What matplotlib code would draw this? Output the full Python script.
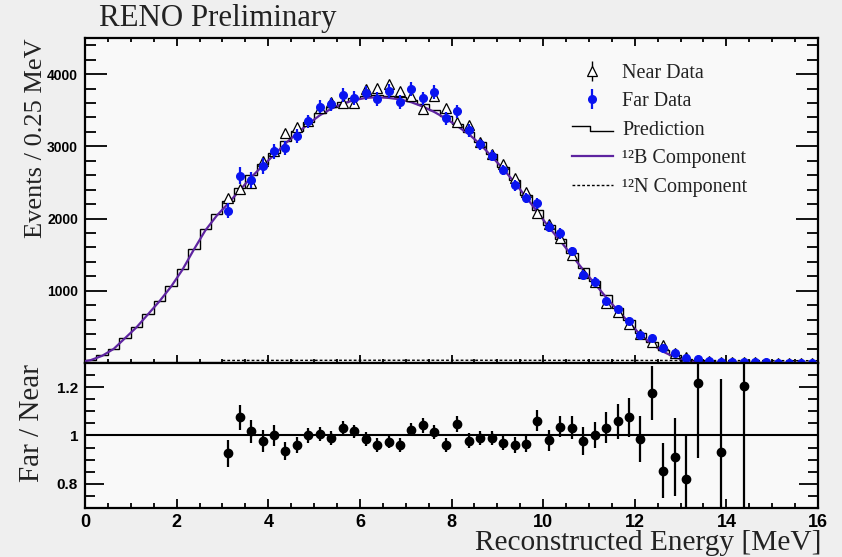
import numpy as np
import matplotlib
matplotlib.use("Agg")
import matplotlib.pyplot as plt
from matplotlib.lines import Line2D
from matplotlib.legend_handler import HandlerBase
from matplotlib.ticker import MultipleLocator, FixedLocator

# ---------------- data ----------------
bin_width = 0.25
bin_edges = np.arange(0.0, 16.0 + bin_width / 2, bin_width)

prediction = [45, 105, 200, 350, 500, 680, 860, 1060, 1300, 1580, 1850, 2060,
              2240, 2420, 2600, 2760, 2910, 3070, 3210, 3340, 3460, 3550, 3620, 3670,
              3700, 3710, 3700, 3680, 3640, 3580, 3505, 3415, 3310, 3200, 3060, 2890,
              2720, 2530, 2330, 2120, 1910, 1720, 1520, 1320, 1130, 940, 760, 590,
              420, 290, 185, 110, 60, 35, 22, 15, 12, 10, 9, 8, 7, 6, 5, 5]

b12_energy = [0.0, 0.125, 0.375, 0.625, 0.875, 1.125, 1.375, 1.625, 1.875, 2.125, 2.375,
              2.625, 2.875, 3.125, 3.375, 3.625, 3.875, 4.125, 4.375, 4.625, 4.875,
              5.125, 5.375, 5.625, 5.875, 6.125, 6.375, 6.625, 6.875, 7.125, 7.375,
              7.625, 7.875, 8.125, 8.375, 8.625, 8.875, 9.125, 9.375, 9.625, 9.875,
              10.125, 10.375, 10.625, 10.875, 11.125, 11.375, 11.625, 11.875, 12.125,
              12.375, 12.625, 12.875, 13.125, 13.375, 13.625, 13.875, 14.5, 15.0, 16.0]
b12_component = [25, 40, 100, 195, 345, 495, 675, 855, 1055, 1290, 1570, 1835, 2040,
                 2210, 2390, 2570, 2730, 2880, 3040, 3180, 3310, 3430, 3520, 3590, 3640,
                 3670, 3680, 3670, 3650, 3610, 3550, 3475, 3385, 3280, 3170, 3030, 2860,
                 2690, 2500, 2300, 2090, 1880, 1690, 1490, 1290, 1100, 910, 730, 560,
                 390, 260, 155, 80, 30, 8, 2, 0, 0, 0, 0]

n12_energy = [3.0, 6.0, 9.0, 12.0, 16.0]
n12_component = [35, 38, 38, 36, 32]

data_energy = [3.125, 3.375, 3.625, 3.875, 4.125, 4.375, 4.625, 4.875, 5.125, 5.375,
               5.625, 5.875, 6.125, 6.375, 6.625, 6.875, 7.125, 7.375, 7.625, 7.875,
               8.125, 8.375, 8.625, 8.875, 9.125, 9.375, 9.625, 9.875, 10.125, 10.375,
               10.625, 10.875, 11.125, 11.375, 11.625, 11.875, 12.125, 12.375, 12.625,
               12.875, 13.125, 13.375, 13.625, 13.875, 14.125, 14.375, 14.625, 14.875,
               15.125, 15.375, 15.625, 15.875]
near_data = [2280, 2415, 2490, 2790, 2930, 3180, 3270, 3345, 3525, 3620, 3600, 3605,
             3800, 3805, 3860, 3760, 3700, 3515, 3700, 3530, 3330, 3290, 3060, 2900,
             2760, 2560, 2365, 2080, 1925, 1730, 1495, 1250, 1125, 825, 705, 545, 400,
             295, 245, 145, 88, 40, 25, 18, 12, 10, 8, 6, 5, 4, 3, 3]
near_err = [38, 39, 40, 42, 43, 45, 46, 46, 47, 48, 48, 48, 49, 49, 50, 49, 49, 47,
            49, 47, 46, 46, 44, 43, 42, 40, 39, 36, 35, 33, 31, 28, 27, 23, 21, 19, 16,
            14, 12, 10, 8, 5, 4, 3, 3, 3, 2, 2, 2, 2, 2, 2]
far_data = [2111, 2596, 2532, 2729, 2930, 2973, 3142, 3345, 3550, 3580, 3712, 3666,
            3743, 3653, 3764, 3613, 3789, 3663, 3752, 3392, 3487, 3221, 3026, 2868,
            2672, 2460, 2280, 2210, 1887, 1795, 1544, 1223, 1128, 852, 746, 586, 394,
            347, 209, 132, 72, 49, 30, 17, 14, 12, 9, 7, 6, 5, 5, 4]
far_err = [105, 120, 110, 110, 105, 95, 95, 95, 95, 95, 95, 95, 95, 95, 95, 95, 95,
           95, 95, 90, 90, 85, 80, 78, 75, 72, 70, 80, 75, 72, 68, 65, 58, 52, 50, 45,
           37, 35, 25, 20, 13, 14, 10, 7, 6, 7, 5, 4, 4, 3, 3, 3]

ratio_energy = [3.125, 3.375, 3.625, 3.875, 4.125, 4.375, 4.625, 4.875, 5.125, 5.375,
                5.625, 5.875, 6.125, 6.375, 6.625, 6.875, 7.125, 7.375, 7.625, 7.875,
                8.125, 8.375, 8.625, 8.875, 9.125, 9.375, 9.625, 9.875, 10.125, 10.375,
                10.625, 10.875, 11.125, 11.375, 11.625, 11.875, 12.125, 12.375, 12.625,
                12.875, 13.125, 13.375, 13.875, 14.375]
ratio = [0.926, 1.075, 1.017, 0.978, 1.000, 0.935, 0.961, 1.000, 1.007, 0.989,
         1.031, 1.017, 0.985, 0.960, 0.975, 0.961, 1.024, 1.042, 1.014, 0.961,
         1.047, 0.979, 0.989, 0.989, 0.968, 0.961, 0.964, 1.062, 0.980, 1.037,
         1.033, 0.978, 1.003, 1.033, 1.058, 1.075, 0.985, 1.176, 0.854, 0.912,
         0.822, 1.219, 0.933, 1.204]
ratio_err = [0.055, 0.053, 0.048, 0.045, 0.042, 0.036, 0.033, 0.030, 0.030, 0.030,
             0.028, 0.028, 0.028, 0.028, 0.028, 0.028, 0.028, 0.030, 0.030, 0.030,
             0.033, 0.030, 0.030, 0.030, 0.030, 0.032, 0.033, 0.042, 0.044, 0.042,
             0.048, 0.058, 0.054, 0.065, 0.072, 0.081, 0.094, 0.111, 0.113, 0.161,
             0.18, 0.314, 0.30, 0.62]

x_ticks = [0, 2, 4, 6, 8, 10, 12, 14, 16]
y_ticks_top = [1000, 2000, 3000, 4000]
y_ticks_ratio = [0.8, 1.0, 1.2]
y_ticklabels_ratio = ["0.8", "1", "1.2"]
legend_labels = ["Near Data", "Far Data", "Prediction", "\u00b9\u00b2B Component",
                 "\u00b9\u00b2N Component"]

# ---------------- style ----------------
SERIF = "Liberation Serif"
SANS = "Liberation Sans"
BLUE = "#0a14f0"
PURPLE = "#5e24a0"
FIG_BG = "#efefef"
AX_BG = "#f9f9f9"
TXT = "#222222"


class StepHandler(HandlerBase):
    def create_artists(self, legend, orig_handle, xdescent, ydescent,
                       width, height, fontsize, trans):
        x0 = -xdescent
        y0 = -ydescent
        xs = [x0, x0 + width * 0.45, x0 + width * 0.45, x0 + width]
        ys = [y0 + height * 0.65, y0 + height * 0.65, y0 + height * 0.3, y0 + height * 0.3]
        ln = Line2D(xs, ys, color="black", lw=1.0)
        ln.set_transform(trans)
        return [ln]


fig = plt.figure(figsize=(8.42, 5.57), dpi=100, facecolor=FIG_BG)
ax1 = fig.add_axes([0.101, 0.3483, 0.8705, 0.5835], facecolor=AX_BG)
ax2 = fig.add_axes([0.101, 0.088, 0.8705, 0.2603], facecolor=AX_BG, sharex=ax1)

# ---------------- top panel ----------------
pred_artist = ax1.stairs(prediction, bin_edges, baseline=None, color="black", lw=1.0,
                         zorder=2)
b12_line, = ax1.plot(b12_energy, b12_component, color=PURPLE, lw=1.6, zorder=3)
n12_line, = ax1.plot(n12_energy, n12_component, color="black", lw=1.0,
                     linestyle=(0, (2, 1.5)), zorder=3)
near_cont = ax1.errorbar(data_energy, near_data, yerr=near_err, fmt="^", color="black",
                         mfc="white", mec="black", ms=6.5, mew=0.9, elinewidth=1.0,
                         capsize=0, zorder=4)
far_cont = ax1.errorbar(data_energy, far_data, yerr=far_err, fmt="o", color=BLUE,
                        mfc=BLUE, mec=BLUE, ms=5.5, elinewidth=1.6, capsize=0, zorder=5)

ax1.set_xlim(0, 16)
ax1.set_ylim(0, 4500)
ax1.yaxis.set_major_locator(FixedLocator(y_ticks_top))
ax1.yaxis.set_minor_locator(MultipleLocator(200))
ax1.xaxis.set_major_locator(FixedLocator(x_ticks))
ax1.xaxis.set_minor_locator(MultipleLocator(0.5))
ax1.tick_params(axis="x", which="both", direction="in", top=True, bottom=True,
                labelbottom=False, width=1.3)
ax1.tick_params(axis="x", which="major", length=6)
ax1.tick_params(axis="x", which="minor", length=3)
ax1.tick_params(axis="y", which="both", direction="in", left=True, right=True, width=1.3)
ax1.tick_params(axis="y", which="major", length=16, pad=5)
ax1.tick_params(axis="y", which="minor", length=8)
for lab in ax1.get_yticklabels():
    lab.set_fontfamily(SANS)
    lab.set_fontweight("bold")
    lab.set_fontsize(10)
for sp in ax1.spines.values():
    sp.set_linewidth(1.6)

ax1.set_ylabel("Events / 0.25 MeV", fontfamily=SERIF, fontsize=19, loc="top", color=TXT)
ax1.yaxis.set_label_coords(-0.052, 1.0)

leg = ax1.legend([near_cont, far_cont, pred_artist, b12_line, n12_line], legend_labels,
                 handler_map={pred_artist: StepHandler()},
                 loc="upper left", bbox_to_anchor=(0.664, 0.921), frameon=False,
                 prop={"family": SERIF, "size": 14.5}, handlelength=2.05,
                 handletextpad=0.45, labelspacing=0.47, borderpad=0.0,
                 borderaxespad=0.0)
for t in leg.get_texts():
    t.set_color(TXT)

fig.text(0.117, 0.966, "RENO Preliminary", fontfamily=SERIF, fontsize=22.2,
         va="center", ha="left", color=TXT)

# ---------------- ratio panel ----------------
ax2.axhline(1.0, color="black", lw=1.5, zorder=2)
ax2.errorbar(ratio_energy, ratio, yerr=ratio_err, fmt="o", color="black", ms=6,
             elinewidth=1.6, capsize=0, zorder=3)
ax2.set_ylim(0.7, 1.3)
ax2.set_xlim(0, 16)
ax2.yaxis.set_major_locator(FixedLocator(y_ticks_ratio))
ax2.set_yticklabels(y_ticklabels_ratio)
ax2.yaxis.set_minor_locator(MultipleLocator(0.05))
ax2.set_xticks(x_ticks)
ax2.set_xticklabels([str(v) for v in x_ticks])
ax2.tick_params(axis="x", which="both", direction="in", top=False, bottom=True, width=1.3)
ax2.tick_params(axis="x", which="major", length=6.5, pad=4)
ax2.tick_params(axis="x", which="minor", length=3.5)
ax2.tick_params(axis="y", which="both", direction="in", left=True, right=True, width=1.3)
ax2.tick_params(axis="y", which="major", length=14, pad=5)
ax2.tick_params(axis="y", which="minor", length=7)
for lab in ax2.get_yticklabels():
    lab.set_fontfamily(SANS)
    lab.set_fontweight("bold")
    lab.set_fontsize(11)
for lab in ax2.get_xticklabels():
    lab.set_fontfamily(SANS)
    lab.set_fontweight("bold")
    lab.set_fontsize(13)
for sp in ax2.spines.values():
    sp.set_linewidth(1.6)

ax2.set_ylabel("Far / Near", fontfamily=SERIF, fontsize=21, loc="top", color=TXT)
ax2.yaxis.set_label_coords(-0.054, 0.99)
ax2.set_xlabel("Reconstructed Energy [MeV]", fontfamily=SERIF, fontsize=21.2,
               loc="right", color=TXT, labelpad=0)
ax2.xaxis.set_label_coords(1.005, -0.155)

fig.savefig("out.png", dpi=100, facecolor=FIG_BG)
